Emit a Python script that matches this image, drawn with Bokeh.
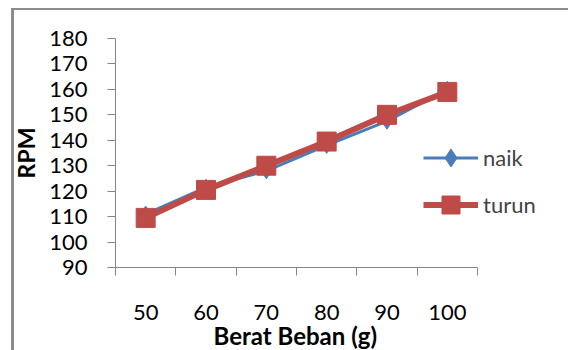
from bokeh.plotting import figure
from bokeh.models import (Range1d, FixedTicker, Legend, LegendItem, Title, InlineStyleSheet)
from bokeh.embed import file_html
from bokeh.resources import INLINE

categories = ["50", "60", "70", "80", "90", "100"]
naik = [111, 121.5, 128, 138, 147.5, 160]
turun = [109.5, 120.5, 130, 139.5, 150, 159]
y_ticks = [90, 100, 110, 120, 130, 140, 150, 160, 170, 180]

FONT = "Lato"
AXIS_COLOR = "#868686"
BLUE = "#4A7EBB"
RED = "#BE4B48"

AXIS_W = 362   # width of the drawn x axis in pixels
FRAME_W = 450  # frame extends to the right to hold the legend
n = len(categories)
xs = [i + 0.5 for i in range(n)]

p = figure(frame_width=FRAME_W, frame_height=229, output_backend="svg", toolbar_location=None,
           x_range=Range1d(0, n * FRAME_W / AXIS_W), y_range=Range1d(90, 180),
           min_border_left=115, min_border_right=3, min_border_top=38, min_border_bottom=83)
p.outline_line_color = None
p.xgrid.visible = False
p.ygrid.visible = False
p.background_fill_color = "white"
p.border_fill_color = "white"

# x axis: labels at category centres, tick marks at category boundaries
xa = p.xaxis[0]
xa.bounds = (0, n)
xa.ticker = FixedTicker(ticks=xs, minor_ticks=list(range(n + 1)))
xa.major_label_overrides = {x: c for x, c in zip(xs, categories)}
xa.major_tick_out = 0
xa.major_tick_in = 0
xa.minor_tick_out = 8
xa.minor_tick_in = 0
xa.minor_tick_line_color = AXIS_COLOR
xa.axis_line_color = AXIS_COLOR
xa.major_label_text_font = FONT
xa.major_label_text_font_size = "22px"
xa.major_label_text_color = "black"
xa.major_label_standoff = 29

ya = p.yaxis[0]
ya.ticker = FixedTicker(ticks=y_ticks)
ya.major_tick_out = 8
ya.major_tick_in = 0
ya.minor_tick_out = 0
ya.minor_tick_in = 0
ya.major_tick_line_color = AXIS_COLOR
ya.axis_line_color = AXIS_COLOR
ya.major_label_text_font = FONT
ya.major_label_text_font_size = "22px"
ya.major_label_text_color = "black"
ya.major_label_standoff = 20
ya.axis_label = "RPM"
ya.axis_label_text_font = FONT
ya.axis_label_text_font_style = "bold"
ya.axis_label_text_font_size = "23px"
ya.axis_label_text_color = "black"
ya.axis_label_standoff = 6

xt = Title(text="Berat Beban (g)", align="left", offset=98, text_font=FONT,
           text_font_style="bold", text_font_size="24px", text_color="black", standoff=-8)
p.add_layout(xt, "below")

l1 = p.line(xs, naik, line_color=BLUE, line_width=3)
m1 = p.scatter(xs, naik, marker="diamond", size=16, fill_color=BLUE, line_color=BLUE)
l2 = p.line(xs, turun, line_color=RED, line_width=6)
m2 = p.scatter(xs, turun, marker="square", size=19, fill_color=RED, line_color=RED)

legend = Legend(items=[LegendItem(label="naik", renderers=[l1, m1]),
                       LegendItem(label="turun", renderers=[l2, m2])],
                location=(308, 40), glyph_width=55, glyph_height=45, spacing=2,
                padding=0, margin=0, label_standoff=5, border_line_color=None,
                background_fill_alpha=0, label_text_font=FONT, label_text_font_size="22px")
p.add_layout(legend, "center")

# outer chart border (drawn over the canvas, does not affect layout)
p.stylesheets = [InlineStyleSheet(css="""
:host::after {
  content: "";
  position: absolute;
  left: 11px; top: 8px; width: 554px; height: 342px;
  border-left: 3px solid #8c8c8c;
  border-top: 2px solid #8c8c8c;
  border-right: 2px solid #c4c4c4;
  pointer-events: none;
  z-index: 100;
}
""")]

open("out.html", "w").write(file_html(p, INLINE))
